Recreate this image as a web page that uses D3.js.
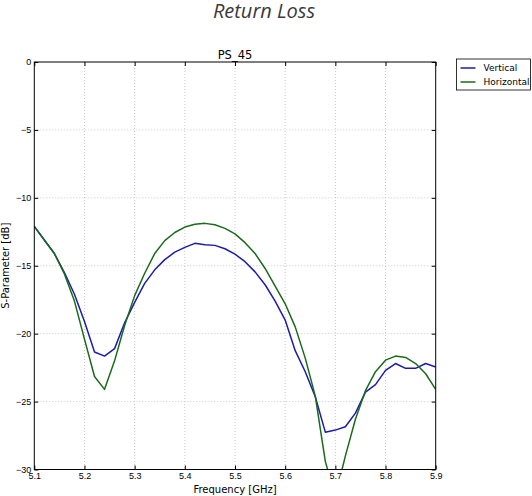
<!DOCTYPE html>
<html>
<head>
<meta charset="utf-8">
<script src="https://cdn.jsdelivr.net/npm/d3@7"></script>
<style>
  body { margin: 0; background: #fff; }
  svg { display: block; font-family: "DejaVu Sans", sans-serif; }
  .grid line { stroke: #c8c8c8; stroke-dasharray: 1,2; stroke-width: 1; }
  .axis path { stroke: none; }
  .axis line { stroke: #000; }
  .axis text { font-size: 9px; fill: #000; }
</style>
</head>
<body>
<svg width="532" height="496"></svg>
<script>
// frequency points (GHz)
var freq = [5.10, 5.12, 5.14, 5.16, 5.18, 5.20, 5.22, 5.24, 5.26, 5.28,
            5.30, 5.32, 5.34, 5.36, 5.38, 5.40, 5.42, 5.44, 5.46, 5.48,
            5.50, 5.52, 5.54, 5.56, 5.58, 5.60, 5.62, 5.64, 5.66, 5.68,
            5.70, 5.72, 5.74, 5.76, 5.78, 5.80, 5.82, 5.84, 5.86, 5.88, 5.90];

var vertical = [-12.1, -13.1, -14.1, -15.5, -17.1, -19.1, -21.35, -21.65, -21.1, -19.2,
                -17.7, -16.3, -15.3, -14.55, -14.0, -13.65, -13.35, -13.45, -13.5, -13.75,
                -14.15, -14.7, -15.45, -16.4, -17.6, -19.0, -21.25, -22.8, -24.65, -27.25,
                -27.1, -26.85, -25.85, -24.3, -23.75, -22.7, -22.2, -22.55, -22.55, -22.2, -22.45];

var horizontal = [-12.1, -13.1, -14.1, -15.6, -17.6, -20.4, -23.15, -24.1, -22.0, -19.4,
                  -17.2, -15.55, -14.1, -13.15, -12.55, -12.15, -11.95, -11.88, -11.98, -12.25,
                  -12.65, -13.3, -14.1, -15.2, -16.5, -17.8, -19.5, -21.8, -24.6, -29.4,
                  -32.0, -29.0, -26.3, -24.2, -22.8, -21.95, -21.65, -21.75, -22.2, -22.95, -24.1];

var xTicks = [5.1, 5.2, 5.3, 5.4, 5.5, 5.6, 5.7, 5.8, 5.9];
var yTicks = [0, -5, -10, -15, -20, -25, -30];

var seriesNames = ["Vertical", "Horizontal"];
var seriesColors = ["#1c1cac", "#1b6a1b"];

var svg = d3.select("svg");

var pLeft = 34.3, pRight = 435.7, pTop = 62, pBottom = 469.5;

var x = d3.scaleLinear().domain([5.1, 5.9]).range([pLeft, pRight]);
var y = d3.scaleLinear().domain([-30, 0]).range([pBottom, pTop]);

// title
svg.append("text")
    .attr("x", 264)
    .attr("y", 18)
    .attr("text-anchor", "middle")
    .attr("font-family", "'Open Sans', sans-serif")
    .attr("font-style", "italic")
    .attr("font-size", 20)
    .attr("fill", "#3a3a3a")
    .text("Return Loss");

// grid
var grid = svg.append("g").attr("class", "grid");
grid.selectAll(".gx")
  .data(xTicks.slice(1, -1))
  .enter().append("line")
    .attr("x1", function(d) { return x(d); })
    .attr("x2", function(d) { return x(d); })
    .attr("y1", pTop).attr("y2", pBottom);
grid.selectAll(".gy")
  .data(yTicks.slice(1, -1))
  .enter().append("line")
    .attr("y1", function(d) { return y(d); })
    .attr("y2", function(d) { return y(d); })
    .attr("x1", pLeft).attr("x2", pRight);

// lines
svg.append("clipPath").attr("id", "clip")
  .append("rect")
    .attr("x", pLeft).attr("y", pTop)
    .attr("width", pRight - pLeft).attr("height", pBottom - pTop);

var line = d3.line()
    .x(function(d, i) { return x(freq[i]); })
    .y(function(d) { return y(d); });

svg.append("g")
    .attr("clip-path", "url(#clip)")
  .selectAll("path")
  .data([vertical, horizontal])
  .enter().append("path")
    .attr("d", line)
    .attr("fill", "none")
    .attr("stroke", function(d, i) { return seriesColors[i]; })
    .attr("stroke-width", 1.5)
    .attr("stroke-linejoin", "round");

// axes, ticks pointing in like matplotlib classic
var fmtY = function(d) { return d3.format("d")(d); };

svg.append("g")
    .attr("class", "axis")
    .attr("transform", "translate(0," + pBottom + ")")
    .call(d3.axisBottom(x).tickValues(xTicks).tickSize(-4).tickPadding(3)
      .tickFormat(d3.format(".1f")));

svg.append("g")
    .attr("class", "axis")
    .attr("transform", "translate(0," + pTop + ")")
    .call(d3.axisTop(x).tickValues(xTicks).tickSize(-4).tickFormat(""));

svg.append("g")
    .attr("class", "axis")
    .attr("transform", "translate(" + pLeft + ",0)")
    .call(d3.axisLeft(y).tickValues(yTicks).tickSize(-4).tickPadding(3).tickFormat(fmtY));

svg.append("g")
    .attr("class", "axis")
    .attr("transform", "translate(" + pRight + ",0)")
    .call(d3.axisRight(y).tickValues(yTicks).tickSize(-4).tickFormat(""));

// frame
svg.append("rect")
    .attr("x", pLeft).attr("y", pTop)
    .attr("width", pRight - pLeft).attr("height", pBottom - pTop)
    .attr("fill", "none")
    .attr("stroke", "#000")
    .attr("stroke-width", 1);

// axis labels
svg.append("text")
    .attr("x", (pLeft + pRight) / 2)
    .attr("y", 493)
    .attr("text-anchor", "middle")
    .attr("font-size", 10)
    .text("Frequency [GHz]");

svg.append("text")
    .attr("transform", "translate(9," + ((pTop + pBottom) / 2) + ") rotate(-90)")
    .attr("text-anchor", "middle")
    .attr("font-size", 10)
    .text("S-Parameter [dB]");

svg.append("text")
    .attr("x", (pLeft + pRight) / 2)
    .attr("y", 59)
    .attr("text-anchor", "middle")
    .attr("font-size", 11.5)
    .text("PS_45");

// legend
var lg = svg.append("g").attr("transform", "translate(456.5,59)");
lg.append("rect")
    .attr("width", 74).attr("height", 31)
    .attr("fill", "#fff").attr("stroke", "#000").attr("stroke-width", 0.8);

var item = lg.selectAll(".item")
  .data(seriesNames)
  .enter().append("g")
    .attr("transform", function(d, i) { return "translate(0," + (9 + i * 14) + ")"; });
item.append("line")
    .attr("x1", 4).attr("x2", 19)
    .attr("stroke", function(d, i) { return seriesColors[i]; })
    .attr("stroke-width", 1.5);
item.append("text")
    .attr("x", 27)
    .attr("dy", "0.35em")
    .attr("font-size", 9)
    .text(function(d) { return d; });
</script>
</body>
</html>
